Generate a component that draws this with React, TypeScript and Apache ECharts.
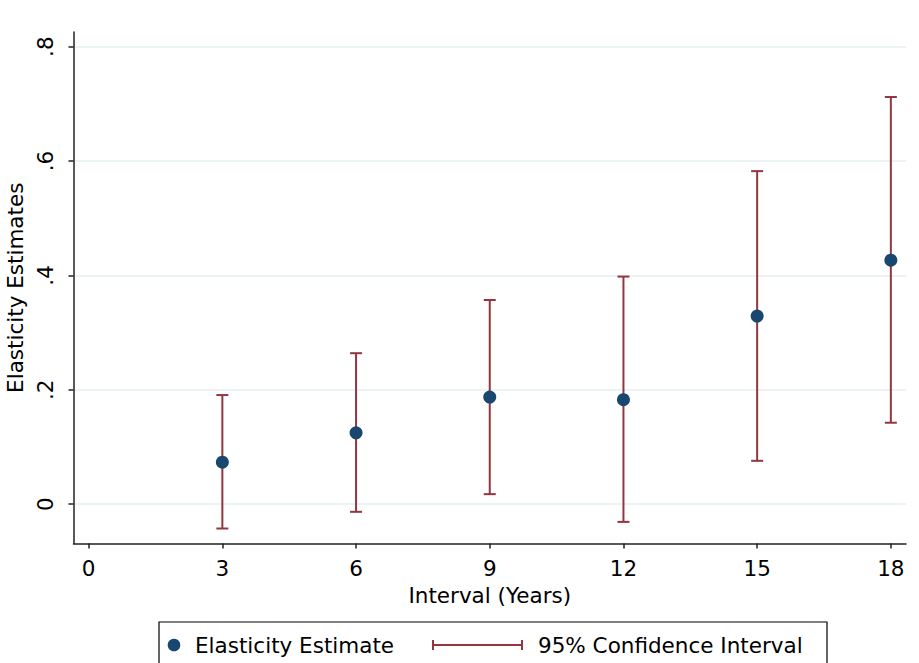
import React, { useEffect, useRef } from "react";
import * as echarts from "echarts";

const intervals = [3, 6, 9, 12, 15, 18];
const estimates = [0.0735, 0.1248, 0.1873, 0.1826, 0.329, 0.4266];
const ciLow = [-0.0426, -0.0134, 0.0175, -0.031, 0.0758, 0.1424];
const ciHigh = [0.1908, 0.264, 0.357, 0.398, 0.5824, 0.712];
const xTicks = [0, 3, 6, 9, 12, 15, 18];
const yTicks = [0, 0.2, 0.4, 0.6, 0.8];

const NAVY = "#1a476f";
const MAROON = "#93363f";
const FONT = "DejaVu Sans";
const FS = 21.5;
const AXIS = "#222";

export default function App() {
  const ref = useRef<HTMLDivElement>(null);
  useEffect(() => {
    document.body.style.margin = "0";
    const chart = echarts.init(ref.current!, null, { renderer: "svg" });
    const ciData = intervals.map((x, i) => [x, ciLow[i], ciHigh[i]]);
    const estData = intervals.map((x, i) => [x, estimates[i]]);
    const fmtY = (v: number) => {
      if (Math.abs(v) < 1e-9) return "0";
      return String(Math.round(v * 10) / 10).replace(/^0\./, ".").replace(/^-0\./, "-.");
    };
    chart.setOption({
      animation: false,
      backgroundColor: "#fff",
      textStyle: { fontFamily: FONT },
      grid: { left: 73.5, right: 13, top: 32, bottom: 119.5, containLabel: false, outerBoundsMode: "none" },
      xAxis: {
        type: "value",
        min: -0.34,
        max: 18.34,
        name: "Interval (Years)",
        nameLocation: "middle",
        nameGap: 40,
        nameTextStyle: { fontFamily: FONT, fontSize: FS, color: "#000" },
        axisLine: { show: true, onZero: false, lineStyle: { color: AXIS, width: 1.5 } },
        axisTick: { show: true, length: 5, customValues: xTicks, lineStyle: { color: AXIS, width: 1.5 } },
        axisLabel: { customValues: xTicks, fontFamily: FONT, fontSize: FS, color: "#000", margin: 14 },
        splitLine: { show: false },
      },
      yAxis: {
        type: "value",
        min: -0.0688,
        max: 0.8257,
        name: "Elasticity Estimates",
        nameLocation: "middle",
        nameGap: 41,
        nameTextStyle: { fontFamily: FONT, fontSize: FS, color: "#000" },
        axisLine: { show: true, onZero: false, lineStyle: { color: AXIS, width: 1.5 } },
        axisTick: { show: true, length: 5, customValues: yTicks, lineStyle: { color: AXIS, width: 1.5 } },
        axisLabel: {
          customValues: yTicks,
          rotate: 90,
          fontFamily: FONT,
          fontSize: FS,
          color: "#000",
          margin: 17,
          formatter: (v: number) => fmtY(v),
        },
        splitLine: { show: true, lineStyle: { color: "#e6eff1", width: 1.5 } },
      },
      series: [
        {
          type: "custom",
          name: "95% Confidence Interval",
          data: ciData,
          encode: { x: 0, y: [1, 2] },
          z: 2,
          renderItem: (params: any, api: any) => {
            const x = api.value(0);
            const lo = api.value(1);
            const hi = api.value(2);
            const pLo = api.coord([x, lo]);
            const pHi = api.coord([x, hi]);
            const hw = 6;
            const style = { stroke: MAROON, lineWidth: 2, fill: "none" };
            return {
              type: "group",
              children: [
                { type: "line", shape: { x1: pHi[0], y1: pHi[1], x2: pLo[0], y2: pLo[1] }, style },
                { type: "line", shape: { x1: pHi[0] - hw, y1: pHi[1], x2: pHi[0] + hw, y2: pHi[1] }, style },
                { type: "line", shape: { x1: pLo[0] - hw, y1: pLo[1], x2: pLo[0] + hw, y2: pLo[1] }, style },
              ],
            };
          },
        },
        {
          type: "scatter",
          name: "Elasticity Estimate",
          data: estData,
          symbol: "circle",
          symbolSize: 13,
          z: 3,
          itemStyle: { color: NAVY, opacity: 1 },
        },
      ],
      graphic: [
        {
          type: "rect",
          shape: { x: 159, y: 622, width: 668, height: 50 },
          style: { fill: "#fff", stroke: "#000", lineWidth: 1.2 },
          z: 10,
        },
        {
          type: "circle",
          shape: { cx: 174, cy: 645, r: 6.3 },
          style: { fill: NAVY },
          z: 11,
        },
        {
          type: "text",
          x: 195,
          y: 645,
          style: { text: "Elasticity Estimate", fontFamily: FONT, fontSize: FS, fill: "#000", verticalAlign: "middle", align: "left" },
          z: 11,
        },
        { type: "line", shape: { x1: 433, y1: 645, x2: 522, y2: 645 }, style: { stroke: MAROON, lineWidth: 2 }, z: 11 },
        { type: "line", shape: { x1: 433, y1: 640, x2: 433, y2: 650 }, style: { stroke: MAROON, lineWidth: 2 }, z: 11 },
        { type: "line", shape: { x1: 522, y1: 640, x2: 522, y2: 650 }, style: { stroke: MAROON, lineWidth: 2 }, z: 11 },
        {
          type: "text",
          x: 538,
          y: 645,
          style: { text: "95% Confidence Interval", fontFamily: FONT, fontSize: FS, fill: "#000", verticalAlign: "middle", align: "left" },
          z: 11,
        },
      ],
    });
    return () => chart.dispose();
  }, []);
  return <div ref={ref} style={{ width: 919, height: 663 }} />;
}
